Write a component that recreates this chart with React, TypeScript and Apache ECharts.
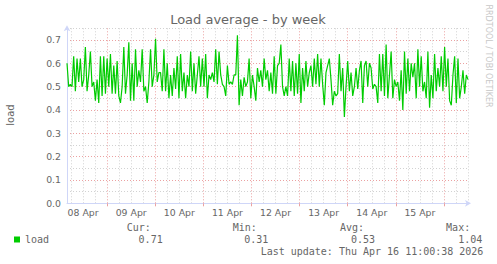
import React, { useEffect, useRef } from "react";
import * as echarts from "echarts";

// Hours are counted from 08 Apr 00:00
const startHour = 4; // 08 Apr 04:00
const endHour = 204; // 16 Apr 12:00
const stepMinutes = 50;

const dayLabels = ["08 Apr", "09 Apr", "10 Apr", "11 Apr", "12 Apr", "13 Apr", "14 Apr", "15 Apr"];

const loadValues = [
  0.60, 0.50, 0.51, 0.50, 0.63, 0.48, 0.62, 0.52, 0.62, 0.50,
  0.53, 0.67, 0.48, 0.55, 0.65, 0.50, 0.52, 0.44, 0.53, 0.43,
  0.63, 0.46, 0.63, 0.47, 0.62, 0.50, 0.64, 0.47, 0.59, 0.47,
  0.61, 0.46, 0.43, 0.50, 0.67, 0.47, 0.55, 0.69, 0.44, 0.60,
  0.44, 0.66, 0.50, 0.57, 0.52, 0.66, 0.48, 0.50, 0.43, 0.52,
  0.66, 0.50, 0.55, 0.705, 0.52, 0.56, 0.56, 0.48, 0.66, 0.48,
  0.60, 0.45, 0.55, 0.46, 0.58, 0.49, 0.63, 0.45, 0.64, 0.48,
  0.56, 0.45, 0.55, 0.50, 0.65, 0.48, 0.60, 0.47, 0.55, 0.63,
  0.50, 0.62, 0.50, 0.64, 0.45, 0.55, 0.53, 0.56, 0.52, 0.66,
  0.51, 0.65, 0.55, 0.51, 0.50, 0.46, 0.59, 0.51, 0.52, 0.51,
  0.55, 0.55, 0.72, 0.42, 0.53, 0.46, 0.54, 0.50, 0.52, 0.62,
  0.45, 0.55, 0.50, 0.44, 0.58, 0.52, 0.57, 0.50, 0.62, 0.53,
  0.57, 0.48, 0.56, 0.47, 0.63, 0.47, 0.59, 0.60, 0.68, 0.50,
  0.46, 0.50, 0.46, 0.62, 0.48, 0.61, 0.46, 0.60, 0.47, 0.64,
  0.43, 0.58, 0.48, 0.61, 0.50, 0.56, 0.59, 0.50, 0.62, 0.51,
  0.64, 0.50, 0.62, 0.51, 0.42, 0.56, 0.59, 0.62, 0.53, 0.42,
  0.48, 0.46, 0.47, 0.64, 0.48, 0.58, 0.37, 0.50, 0.61, 0.48,
  0.56, 0.46, 0.50, 0.58, 0.49, 0.57, 0.61, 0.43, 0.59, 0.61,
  0.50, 0.60, 0.58, 0.49, 0.51, 0.50, 0.43, 0.64, 0.48, 0.64,
  0.46, 0.68, 0.45, 0.55, 0.65, 0.45, 0.53, 0.50, 0.52, 0.44,
  0.57, 0.40, 0.65, 0.47, 0.62, 0.48, 0.60, 0.54, 0.60, 0.45,
  0.66, 0.50, 0.63, 0.48, 0.52, 0.45, 0.65, 0.41, 0.55, 0.45,
  0.64, 0.48, 0.58, 0.50, 0.63, 0.48, 0.67, 0.50, 0.62, 0.44,
  0.42, 0.55, 0.63, 0.43, 0.62, 0.45, 0.50, 0.57, 0.47, 0.55,
  0.53,
];

const statLabels = ["Cur:", "Min:", "Avg:", "Max:"];
const statValues = ["0.71", "0.31", "0.53", "1.04"];
const lastUpdate = "Last update: Thu Apr 16 11:00:38 2026";
const titleText = "Load average - by week";
const unitText = "load";
const watermark = "RRDTOOL / TOBI OETIKER";
const seriesName = "load";

const FONT_COLOR = "#666666";
const AXIS_COLOR = "#cfd6f8";
const MGRID = "#eba1a1";
const GRID = "#d2d2d2";
const LINE = "#00cc00";

export default function App() {
  const ref = useRef<HTMLDivElement>(null);

  useEffect(() => {
    if (!ref.current) return;
    const chart = echarts.init(ref.current, undefined, { renderer: "svg" });

    const hours: string[] = [];
    for (let h = startHour; h <= endHour; h++) hours.push(String(h));
    const data = loadValues.map((v, i) => [startHour + (i * stepMinutes) / 60, v]);

    const statX = [126.7, 232.7, 339.9, 446.1];
    const valX = [138.6, 244.3, 351, 458.2];
    const mono = '10px "DejaVu Sans Mono"';

    const graphics: any[] = [
      {
        type: "text",
        x: 248,
        y: 19.5,
        style: { text: titleText, font: '13px "DejaVu Sans"', fill: FONT_COLOR, align: "center", verticalAlign: "middle" },
      },
      {
        type: "text",
        x: 10,
        y: 115,
        rotation: Math.PI / 2,
        style: { text: unitText, font: '10px "DejaVu Sans"', fill: FONT_COLOR, align: "center", verticalAlign: "middle" },
      },
      {
        type: "text",
        x: 488.3,
        y: 56,
        rotation: -Math.PI / 2,
        style: { text: watermark, font: '8px "DejaVu Sans"', fill: "#c8c8c8", align: "center", verticalAlign: "middle" },
      },
      {
        type: "text",
        x: 483.4,
        y: 251.2,
        style: { text: lastUpdate, font: mono, fill: FONT_COLOR, align: "right", verticalAlign: "middle" },
      },
    ];
    statLabels.forEach((s, i) => {
      graphics.push({
        type: "text",
        x: statX[i],
        y: 227.7,
        style: { text: s, font: mono, fill: FONT_COLOR, align: "left", verticalAlign: "middle" },
      });
      graphics.push({
        type: "text",
        x: valX[i],
        y: 239.2,
        style: { text: statValues[i], font: mono, fill: FONT_COLOR, align: "left", verticalAlign: "middle" },
      });
    });

    chart.setOption({
      animation: false,
      backgroundColor: "#ffffff",
      grid: { left: 67, right: 29, top: 28.3, bottom: 60.7, containLabel: false },
      legend: {
        data: [seriesName],
        left: 9,
        top: 229.5,
        padding: 5,
        icon: "rect",
        itemWidth: 6,
        itemHeight: 6,
        selectedMode: false,
        textStyle: { fontFamily: "DejaVu Sans Mono", fontSize: 10, color: FONT_COLOR },
      },
      xAxis: [
        {
          type: "category",
          data: hours,
          boundaryGap: false,
          position: "bottom",
          axisLine: {
            show: true,
            onZero: false,
            lineStyle: { color: AXIS_COLOR, width: 1 },
            symbol: ["none", "arrow"],
            symbolSize: [5, 6],
            symbolOffset: [0, 3],
          },
          axisTick: {
            show: true,
            interval: (_i: number, v: string) => Number(v) % 24 === 0,
            length: 3,
            lineStyle: { color: MGRID },
          },
          axisLabel: {
            interval: (_i: number, v: string) => Number(v) % 24 === 12 && Number(v) < endHour,
            formatter: (v: string) => dayLabels[Math.floor(Number(v) / 24)] ?? "",
            color: FONT_COLOR,
            fontFamily: "DejaVu Sans",
            fontSize: 9.33,
            margin: 5,
          },
          splitLine: {
            show: true,
            interval: (_i: number, v: string) => Number(v) % 6 === 0,
            lineStyle: { color: [GRID, GRID, GRID, MGRID], type: [1, 2], width: 1 },
          },
        },
        {
          type: "value",
          min: startHour,
          max: endHour,
          show: false,
        },
      ],
      yAxis: {
        type: "value",
        min: 0,
        max: 0.75,
        interval: 0.05,
        axisLine: {
          show: true,
          lineStyle: { color: AXIS_COLOR, width: 1 },
          symbol: ["none", "arrow"],
          symbolSize: [5, 6],
          symbolOffset: [0, 3],
        },
        axisTick: { show: false },
        axisLabel: {
          formatter: (v: number) => (Math.round(v * 100) % 10 === 0 ? v.toFixed(1) : ""),
          color: FONT_COLOR,
          fontFamily: "DejaVu Sans",
          fontSize: 9.33,
          margin: 6,
        },
        splitLine: {
          show: true,
          lineStyle: { color: [MGRID, GRID], type: [1, 2], width: 1 },
        },
      },
      series: [
        {
          name: seriesName,
          type: "line",
          xAxisIndex: 1,
          yAxisIndex: 0,
          data,
          symbol: "none",
          showSymbol: false,
          silent: true,
          lineStyle: { color: LINE, width: 1.2 },
          itemStyle: { color: LINE },
        },
      ],
      graphic: graphics,
    });

    return () => chart.dispose();
  }, []);

  return (
    <div
      ref={ref}
      style={{ position: "fixed", left: 0, top: 0, width: 497, height: 264, background: "#fff" }}
    />
  );
}
